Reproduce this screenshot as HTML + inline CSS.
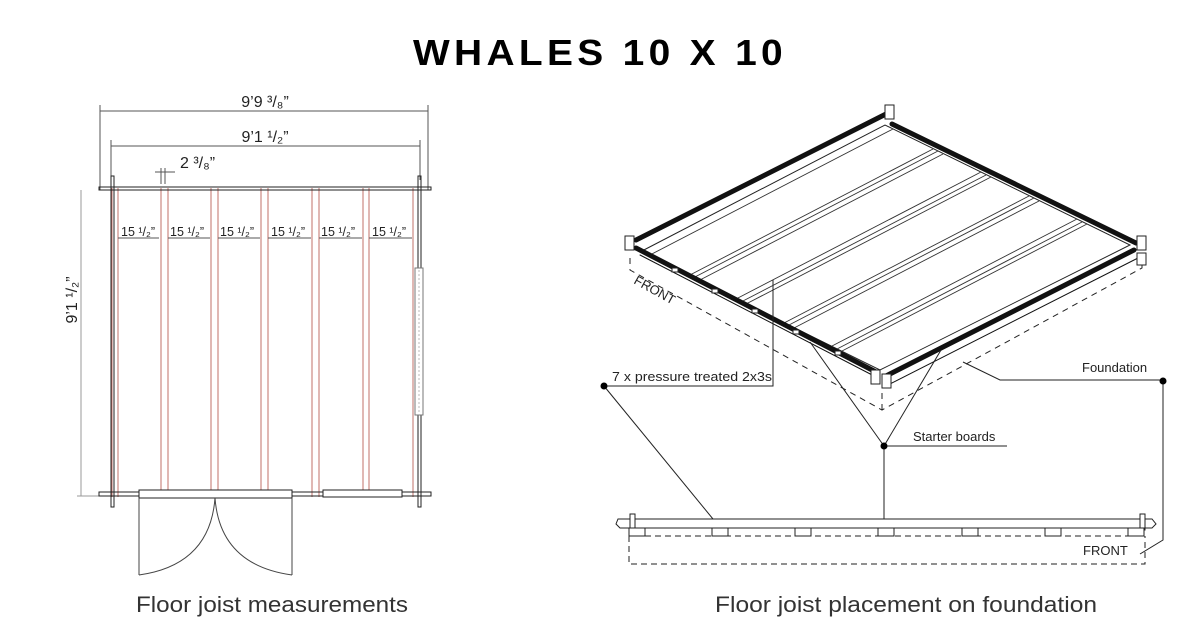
<!DOCTYPE html>
<html><head><meta charset="utf-8"><style>
html,body{margin:0;padding:0;background:#fff;}
svg{display:block;}
text{font-family:"Liberation Sans",sans-serif;}
</style></head><body>
<svg width="1200" height="628" viewBox="0 0 1200 628" xmlns="http://www.w3.org/2000/svg">
<rect width="1200" height="628" fill="#fff"/>
<text x="413" y="65" font-size="36" font-weight="bold" letter-spacing="4" textLength="374" lengthAdjust="spacingAndGlyphs" fill="#000">WHALES 10 X 10</text>

<!-- LEFT PLAN -->
<g stroke="#555" stroke-width="1" fill="none">
<line x1="100" y1="111" x2="428" y2="111"/>
<line x1="100" y1="105" x2="100" y2="190"/><line x1="428" y1="105" x2="428" y2="190"/>
<line x1="111" y1="146" x2="420" y2="146"/>
<line x1="111" y1="140" x2="111" y2="180"/><line x1="420" y1="140" x2="420" y2="180"/>
<line x1="155" y1="172" x2="175" y2="172"/>
<line x1="161" y1="168" x2="161" y2="184"/><line x1="165" y1="168" x2="165" y2="184"/>
<line x1="81" y1="190" x2="81" y2="496" stroke="#999"/>
<line x1="77" y1="496" x2="100" y2="496" stroke="#999"/>
</g>
<text x="265" y="107" text-anchor="middle" font-size="16" fill="#222">9’9 ³/₈”</text>
<text x="265" y="142" text-anchor="middle" font-size="16" fill="#222">9’1 ¹/₂”</text>
<text x="180" y="168" font-size="16" fill="#222">2 ³/₈”</text>
<text transform="translate(77,300) rotate(-90)" text-anchor="middle" font-size="16" fill="#222">9’1 ¹/₂”</text>

<g stroke="#c0706a" stroke-width="1" fill="none">
<line x1="112" y1="188" x2="112" y2="497"/><line x1="118" y1="188" x2="118" y2="497"/>
<line x1="161" y1="188" x2="161" y2="497"/><line x1="168" y1="188" x2="168" y2="497"/>
<line x1="211" y1="188" x2="211" y2="497"/><line x1="218" y1="188" x2="218" y2="497"/>
<line x1="261" y1="188" x2="261" y2="497"/><line x1="268" y1="188" x2="268" y2="497"/>
<line x1="312" y1="188" x2="312" y2="497"/><line x1="319" y1="188" x2="319" y2="497"/>
<line x1="363" y1="188" x2="363" y2="497"/><line x1="369" y1="188" x2="369" y2="497"/>
<line x1="413" y1="188" x2="413" y2="497"/>
</g>
<g font-size="12.5" fill="#222">
<text x="121" y="236">15 ¹/₂”</text><text x="170" y="236">15 ¹/₂”</text>
<text x="220" y="236">15 ¹/₂”</text><text x="271" y="236">15 ¹/₂”</text>
<text x="321" y="236">15 ¹/₂”</text><text x="372" y="236">15 ¹/₂”</text>
</g>
<g stroke="#555" stroke-width="1" fill="none">
<line x1="118" y1="238" x2="159" y2="238"/><line x1="168" y1="238" x2="210" y2="238"/>
<line x1="218" y1="238" x2="260" y2="238"/><line x1="268" y1="238" x2="311" y2="238"/>
<line x1="319" y1="238" x2="362" y2="238"/><line x1="369" y1="238" x2="412" y2="238"/>
</g>
<g stroke="#222" stroke-width="1" fill="none">
<rect x="99" y="187" width="332" height="3"/>
<rect x="111" y="176" width="3" height="331"/>
<rect x="418" y="176" width="3" height="331"/>
<rect x="99" y="492" width="332" height="4"/>
<rect x="139" y="490" width="153" height="8" fill="#fff"/>
<rect x="323" y="490" width="79" height="7" fill="#fff"/>
<rect x="415" y="268" width="8" height="147" fill="#fff" stroke="#777"/>
<line x1="419" y1="270" x2="419" y2="413" stroke="#bbb" stroke-dasharray="2,2"/>
<line x1="139" y1="498" x2="139" y2="575" stroke="#444"/>
<line x1="292" y1="498" x2="292" y2="575" stroke="#444"/>
<path d="M215 498 Q210 565 139 575" stroke="#444"/>
<path d="M215 498 Q220 565 292 575" stroke="#444"/>
</g>
<text x="136" y="612" font-size="22" textLength="272" lengthAdjust="spacingAndGlyphs" fill="#333">Floor joist measurements</text>

<!-- RIGHT ISO -->
<g stroke="#222" stroke-width="1" fill="none" stroke-dasharray="6,5">
<polyline points="630,258 630,270 882,410 1142,268 1142,255"/>
<line x1="882" y1="382" x2="882" y2="410"/>
</g>
<text transform="translate(633,283) rotate(29)" font-size="13" fill="#222">FRONT</text>
<polygon points="640,252 885,125 1130,245 880,370" fill="#fff" stroke="#222" stroke-width="1"/>
<g stroke="#333" stroke-width="0.9">
<line x1="688" y1="276" x2="933" y2="149"/><line x1="693" y1="278" x2="938" y2="151"/><line x1="698" y1="281" x2="943" y2="154"/>
<line x1="736" y1="299" x2="981" y2="172"/><line x1="741" y1="302" x2="986" y2="175"/><line x1="746" y1="304" x2="991" y2="177"/>
<line x1="784" y1="323" x2="1029" y2="196"/><line x1="789" y1="325" x2="1034" y2="198"/><line x1="794" y1="328" x2="1039" y2="201"/>
<line x1="832" y1="346" x2="1077" y2="219"/><line x1="837" y1="349" x2="1082" y2="222"/><line x1="842" y1="351" x2="1087" y2="224"/>
<line x1="648" y1="256" x2="893" y2="129"/>
</g>
<g stroke="#111" fill="none" stroke-linecap="round">
<line x1="636" y1="240" x2="886" y2="114" stroke-width="5"/>
<line x1="892" y1="124" x2="1136" y2="243" stroke-width="5"/>
<line x1="636" y1="248" x2="876" y2="372" stroke-width="5"/>
<line x1="886" y1="376" x2="1134" y2="250" stroke-width="5"/>
<line x1="888" y1="385" x2="1138" y2="258" stroke-width="1"/>
<line x1="640" y1="255" x2="878" y2="378" stroke-width="1"/>
</g>
<g stroke="#222" stroke-width="1" fill="#fff">
<rect x="625" y="236" width="9" height="14"/>
<rect x="885" y="105" width="9" height="14"/>
<rect x="1137" y="236" width="9" height="14"/>
<rect x="1137" y="253" width="9" height="12"/>
<rect x="871" y="370" width="9" height="14"/>
<rect x="882" y="374" width="9" height="14"/>
<rect x="672" y="268" width="6" height="4"/><rect x="712" y="289" width="6" height="4"/>
<rect x="752" y="309" width="6" height="4"/><rect x="793" y="330" width="6" height="4"/>
<rect x="835" y="351" width="6" height="4"/>
</g>
<g stroke="#222" stroke-width="1" fill="none">
<polyline points="604,386 773,386 773,280"/>
<line x1="604" y1="386" x2="722" y2="530"/>
<polyline points="963,362 1000,380 1163,380 1163,540 1140,554"/>
<line x1="884" y1="446" x2="1007" y2="446"/>
<line x1="884" y1="446" x2="810" y2="342"/>
<line x1="884" y1="446" x2="941" y2="350"/>
<line x1="884" y1="446" x2="884" y2="520"/>
</g>
<circle cx="604" cy="386" r="3.5" fill="#000"/>
<circle cx="1163" cy="381" r="3.5" fill="#000"/>
<circle cx="884" cy="446" r="3.5" fill="#000"/>
<text x="612" y="381" font-size="13" textLength="160" lengthAdjust="spacingAndGlyphs" fill="#222">7 x pressure treated 2x3s</text>
<text x="1082" y="372" font-size="13" fill="#222">Foundation</text>
<text x="913" y="441" font-size="13" fill="#222">Starter boards</text>

<g stroke="#222" stroke-width="1" fill="#fff">
<path d="M620 528 L616 524 L618 519 L1152 519 L1156 524 L1152 528 Z"/>
<rect x="630" y="514" width="5" height="16"/>
<rect x="1140" y="514" width="5" height="16"/>
<rect x="629" y="528" width="16" height="8"/><rect x="712" y="528" width="16" height="8"/>
<rect x="795" y="528" width="16" height="8"/><rect x="878" y="528" width="16" height="8"/>
<rect x="962" y="528" width="16" height="8"/><rect x="1045" y="528" width="16" height="8"/>
<rect x="1128" y="528" width="16" height="8"/>
</g>
<g stroke="#222" stroke-width="1" fill="none" stroke-dasharray="6,4">
<line x1="645" y1="536" x2="1128" y2="536"/>
<polyline points="629,536 629,564 1145,564 1145,536"/>
</g>
<text x="1083" y="555" font-size="13" fill="#222">FRONT</text>
<text x="715" y="612" font-size="22" textLength="382" lengthAdjust="spacingAndGlyphs" fill="#333">Floor joist placement on foundation</text>
</svg>
</body></html>
